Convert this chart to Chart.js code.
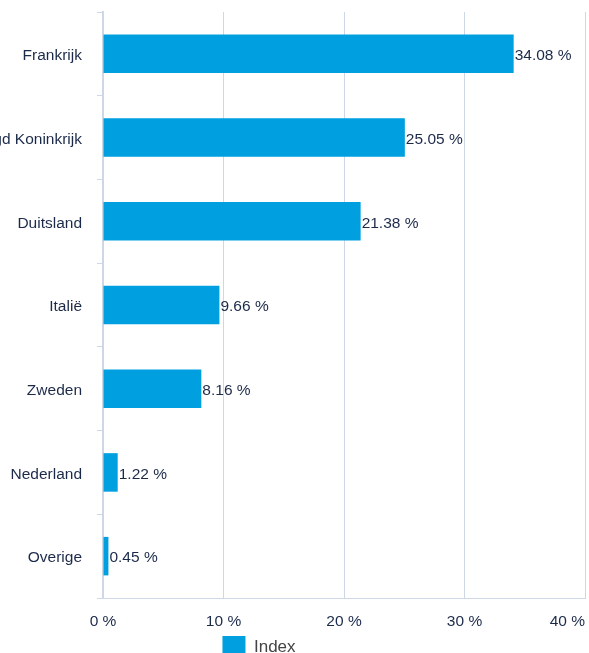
<!DOCTYPE html>
<html>
<head>
<meta charset="utf-8">
<script src="https://cdn.jsdelivr.net/npm/chart.js@4"></script>
<style>
  html, body { margin: 0; padding: 0; background: #fff; overflow: hidden; }
  #wrap { position: relative; width: 589px; height: 653px; overflow: hidden; }
  /* the original chart is wider than the picture, its left edge is cut off */
  #grafico { position: absolute; left: -67px; top: 0; }
</style>
</head>
<body>
<div id="wrap"><canvas id="grafico" width="656" height="668"></canvas></div>
<script>
// --- datos ---
const landen = ['Frankrijk', 'Verenigd Koninkrijk', 'Duitsland', 'Italië', 'Zweden', 'Nederland', 'Overige'];
const waarden = [34.08, 25.05, 21.38, 9.66, 8.16, 1.22, 0.45];
const reeksNaam = 'Index';
const xMin = 0, xMax = 40, xStap = 10;

const blauw = '#009fe0';
const lijnKleur = '#cdd7e6';
const tekstKleur = '#1c2a4a';
const lettertype = '"Liberation Sans", Arial, sans-serif';
const tekstMaat = 15.5;

// waarde naast elke balk
const waardeLabels = {
  id: 'waardeLabels',
  afterDatasetsDraw(chart) {
    const ctx = chart.ctx;
    const meta = chart.getDatasetMeta(0);
    ctx.save();
    ctx.font = tekstMaat + 'px ' + lettertype;
    ctx.fillStyle = tekstKleur;
    ctx.textAlign = 'left';
    ctx.textBaseline = 'middle';
    meta.data.forEach((bar, i) => {
      ctx.fillText(waarden[i].toFixed(2) + ' %', bar.x + 1, bar.y + 2);
    });
    ctx.restore();
  }
};

// eerste x-label gecentreerd, laatste binnen de grafiek
const eersteLabelMidden = {
  id: 'eersteLabelMidden',
  beforeDraw(chart) {
    const items = chart.scales.x.getLabelItems(chart.chartArea);
    if (items.length) items[0].options.textAlign = 'center';
  }
};

const geenRand = scale => {
  scale.paddingTop = 0;
  scale.paddingBottom = 0;
  scale.paddingLeft = 0;
  scale.paddingRight = 0;
};

new Chart(document.getElementById('grafico'), {
  type: 'bar',
  data: {
    labels: landen,
    datasets: [{
      label: reeksNaam,
      data: waarden,
      backgroundColor: blauw,
      borderWidth: 0,
      categoryPercentage: 1,
      barPercentage: 0.46
    }]
  },
  options: {
    indexAxis: 'y',
    responsive: false,
    animation: false,
    layout: { padding: { top: 12, right: 4, left: 0, bottom: 0 } },
    scales: {
      x: {
        min: xMin,
        max: xMax,
        afterFit: scale => { geenRand(scale); scale.height = 28; },
        ticks: {
          stepSize: xStap,
          align: 'inner',
          padding: 14,
          color: tekstKleur,
          font: { size: tekstMaat, family: lettertype },
          callback: v => v + ' %'
        },
        grid: { color: lijnKleur, drawTicks: false },
        border: { color: lijnKleur }
      },
      y: {
        afterFit: scale => { geenRand(scale); scale.width = 170; },
        ticks: {
          padding: 15,
          labelOffset: 2,
          color: tekstKleur,
          font: { size: tekstMaat, family: lettertype }
        },
        grid: { color: lijnKleur, drawOnChartArea: false, drawTicks: true, tickLength: 6 },
        border: { color: lijnKleur, width: 2 }
      }
    },
    plugins: {
      legend: {
        position: 'bottom',
        labels: {
          boxWidth: 23,
          boxHeight: 22,
          padding: 10,
          color: '#444444',
          font: { size: 17, family: lettertype }
        }
      },
      tooltip: { enabled: false }
    }
  },
  plugins: [waardeLabels, eersteLabelMidden]
});
</script>
</body>
</html>
